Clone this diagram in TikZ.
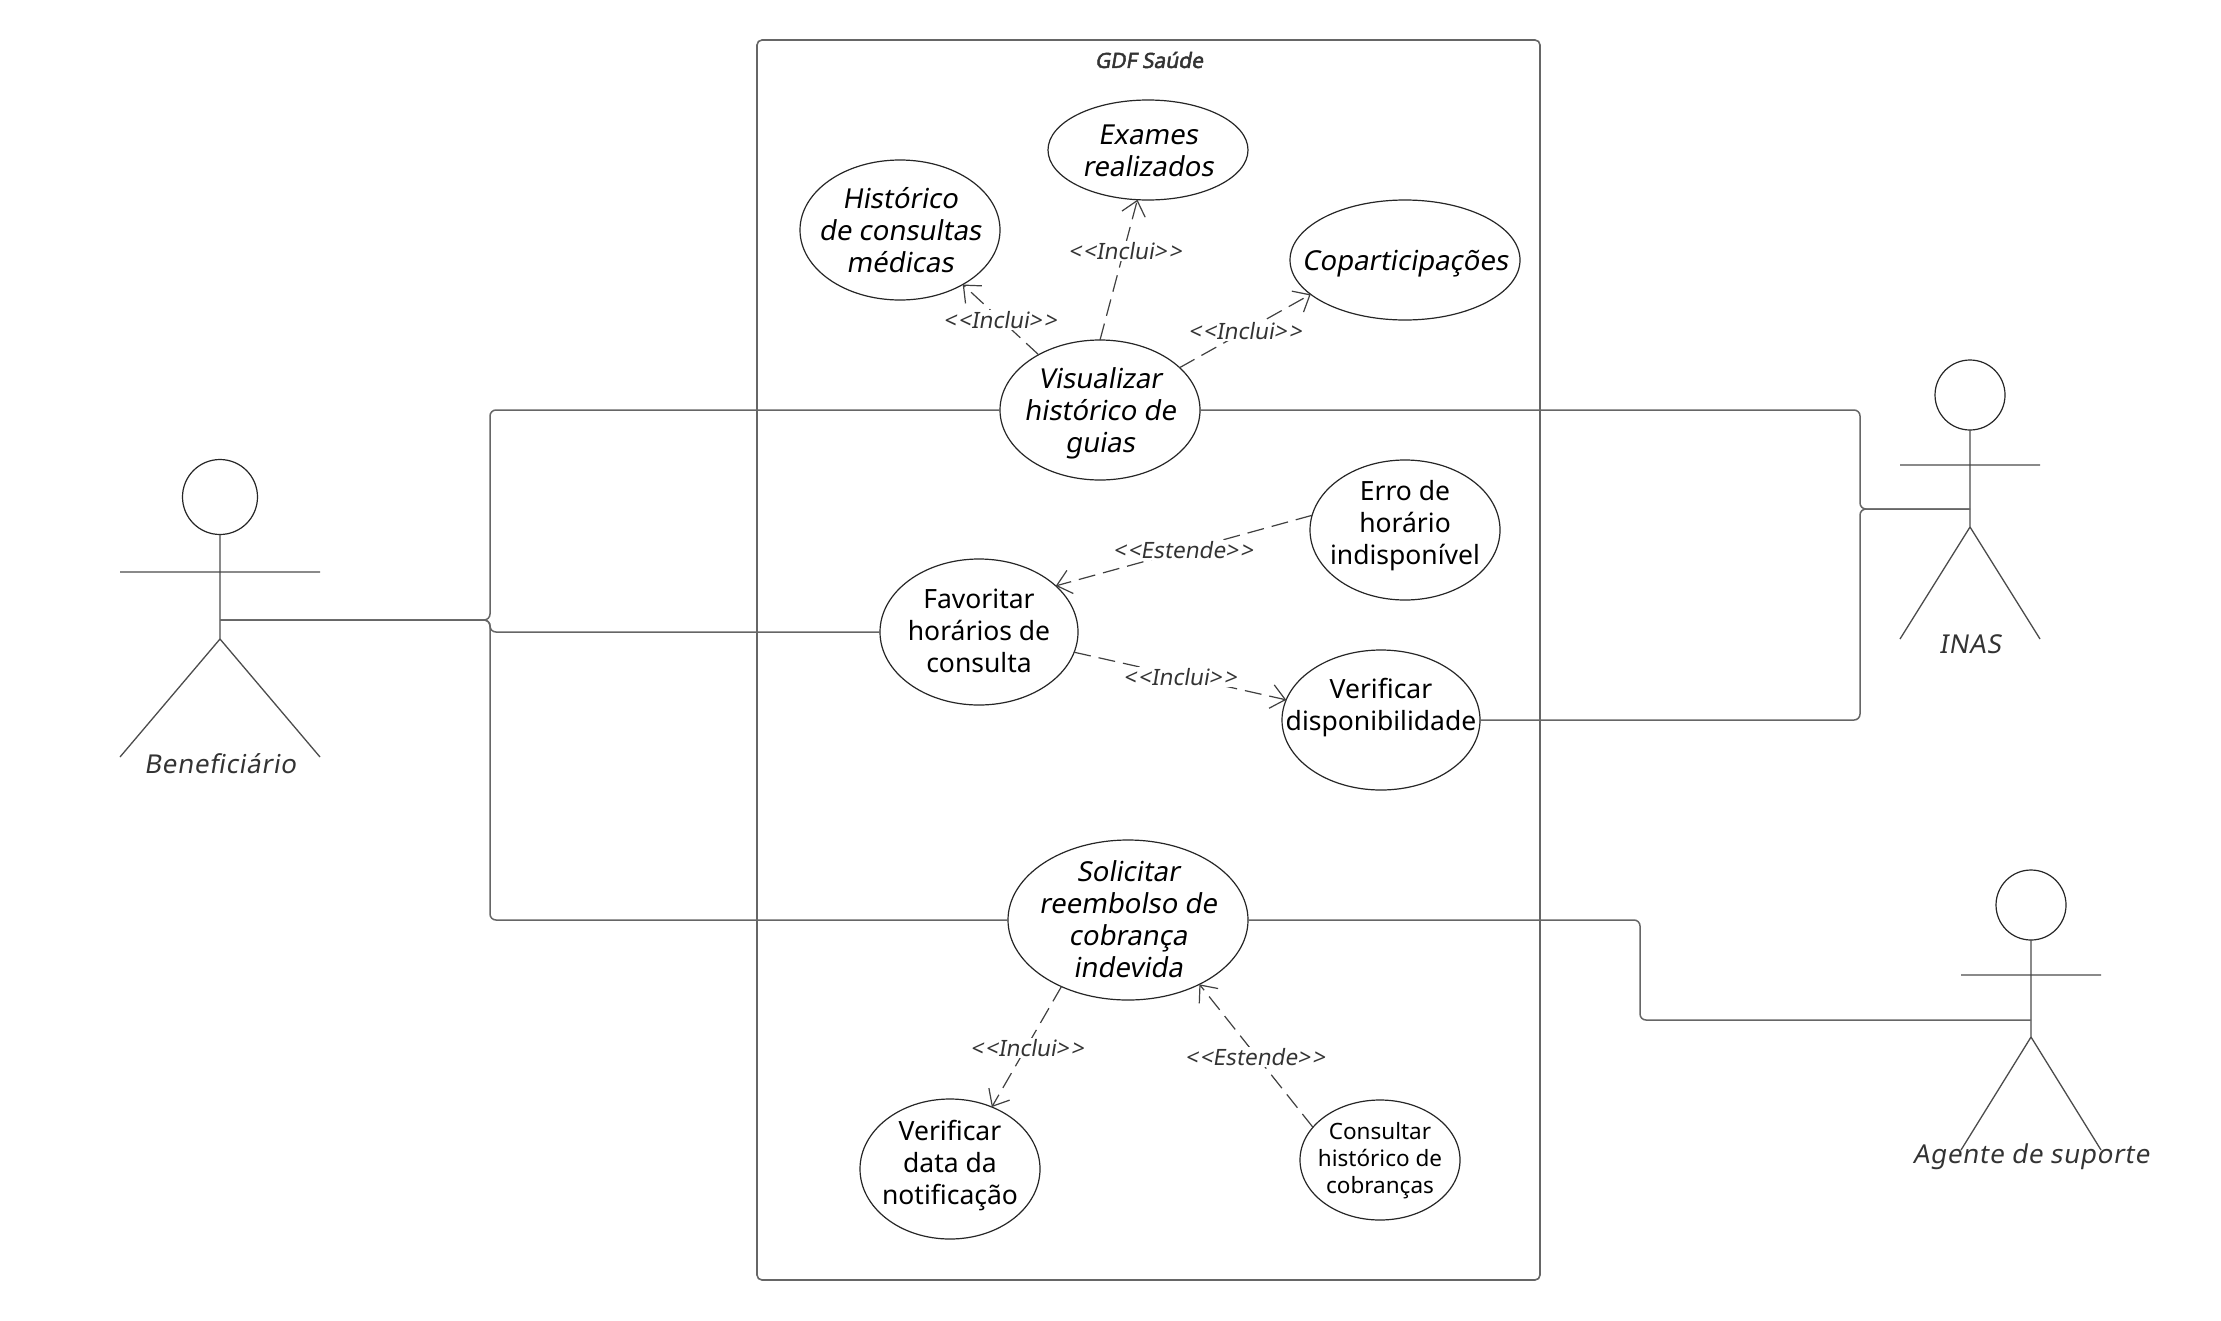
\documentclass[tikz,border=0pt]{standalone}
\usepackage{fontspec}
\setmainfont{Noto Sans}
\newfontfamily\slf[FakeSlant=0.17]{Noto Sans}
\newfontfamily\slbf[FakeSlant=0.17,FakeBold=2.2]{Noto Sans}
\newfontfamily\slsp[FakeSlant=0.17,LetterSpace=2.7]{Noto Sans}
\usetikzlibrary{shapes.geometric,arrows.meta}
\definecolor{wirec}{HTML}{666666}
\definecolor{inkc}{HTML}{333333}
\newcommand\tcell[2]{\raisebox{#1}[0pt][0pt]{\begin{tabular}[c]{@{}c@{}}#2\end{tabular}}}
\newcommand\incl{<\kern2pt<\kern0ptInclui>\kern2pt>}
\newcommand\este{<\kern2pt<\kern0ptEstende>\kern2pt>}
\tikzset{
  usecase/.style={draw=black!85,line width=1.2pt,ellipse,inner sep=-60pt,outer sep=0pt,text=black,font=\fontsize{26.5}{32}\selectfont},
  upc/.style={usecase,font=\fontsize{27.5}{32}\selectfont\slf},
  wire/.style={draw=wirec,line width=1.5pt,rounded corners=6pt},
  dep/.style={draw=black!75,line width=1.2pt,dash pattern=on 17pt off 8pt,-{Straight Barb[length=14pt,width=24pt,line width=1.2pt]}},
  deplabel/.style={fill=white,inner xsep=1pt,inner ysep=1pt,text=inkc,font=\fontsize{22.5}{26}\selectfont\slf},
  figure/.style={draw=black!70,line width=1.3pt},
  head/.style={circle,draw=black!85,line width=1.2pt,inner sep=0pt,outer sep=0pt,minimum size=#1},
  actorname/.style={text=inkc,font=\fontsize{26}{32}\selectfont\slsp},
  system/.style={draw=wirec,line width=1.6pt,rounded corners=5pt}
}
\begin{document}
\begin{tikzpicture}[x=1pt,y=-1pt]
\useasboundingbox (0,0) rectangle (2221,1320);
\fill[white] (0,0) rectangle (2221,1320);
% system boundary
\node[system,minimum width=783pt,minimum height=1240pt,inner sep=0pt,outer sep=0pt] (sys) at (1148.5,660) {};
\node[text=inkc,font=\fontsize{21}{24}\selectfont\slbf] (title) at (1149,60) {GDF Saúde};
% use cases
\node[upc,minimum width=200pt,minimum height=100pt] (exames) at (1148,150) {\tcell{-10pt}{Exames\\realizados}};
\node[upc,minimum width=200pt,minimum height=140pt] (hist) at (900,230) {\tcell{-10pt}{Histórico\\de consultas\\médicas}};
\node[upc,minimum width=230pt,minimum height=120pt] (cop) at (1405,260) {\tcell{-10pt}{Coparticipações}};
\node[upc,minimum width=200pt,minimum height=140pt] (vis) at (1100,410) {\tcell{-10pt}{Visualizar\\histórico de\\guias}};
\node[usecase,minimum width=190pt,minimum height=140pt] (erro) at (1405,530) {\tcell{-2pt}{Erro de\\horário\\indisponível}};
\node[usecase,minimum width=198pt,minimum height=146pt] (fav) at (979,632) {\tcell{-8pt}{Favoritar\\horários de\\consulta}};
\node[usecase,minimum width=198pt,minimum height=140pt] (disp) at (1381,720) {\tcell{6pt}{Verificar\\disponibilidade}};
\node[upc,minimum width=240pt,minimum height=160pt] (sol) at (1128,920) {\tcell{-9pt}{Solicitar\\reembolso de\\cobrança\\indevida}};
\node[usecase,minimum width=180pt,minimum height=140pt] (data) at (950,1169) {\tcell{-3pt}{Verificar\\data da\\notificação}};
\node[usecase,minimum width=160pt,minimum height=120pt,font=\fontsize{22.5}{27}\selectfont] (cons) at (1380,1160) {\tcell{-6pt}{Consultar\\histórico de\\cobranças}};
% actors
\node[head=75pt] (h1) at (220,497) {};
\coordinate (b1) at (220,639); \coordinate (a1l) at (120,572); \coordinate (a1r) at (320,572);
\coordinate (l1l) at (120,757); \coordinate (l1r) at (320,757);
\draw[figure] (h1.south) -- (b1) (a1l) -- (a1r) (l1l) -- (b1) -- (l1r);
\node[actorname] (benef) at (220,764) {Beneficiário};
\node[head=70pt] (h2) at (1970,395) {};
\coordinate (b2) at (1970,527); \coordinate (a2l) at (1900,465); \coordinate (a2r) at (2040,465);
\coordinate (l2l) at (1900,639); \coordinate (l2r) at (2040,639);
\draw[figure] (h2.south) -- (b2) (a2l) -- (a2r) (l2l) -- (b2) -- (l2r);
\node[actorname] (inas) at (1970,644) {INAS};
\node[head=70pt] (h3) at (2031,905) {};
\coordinate (b3) at (2031,1037); \coordinate (a3l) at (1961,975); \coordinate (a3r) at (2101,975);
\coordinate (l3l) at (1961,1150); \coordinate (l3r) at (2101,1150);
\draw[figure] (h3.south) -- (b3) (a3l) -- (a3r) (l3l) -- (b3) -- (l3r);
\node[actorname] (agente) at (2031,1157) {Agente de suporte};
% association connectors
\coordinate (p1) at (220,620); \coordinate (t1) at (490,620);
\draw[wire] (p1) -- (t1) |- (vis.west);
\draw[wire] (p1) -- (t1) |- (fav.west);
\draw[wire] (p1) -- (t1) |- (sol.west);
\coordinate (p2) at (1970,509); \coordinate (t2) at (1860,509);
\draw[wire] (vis.east) -| (t2) -- (p2);
\draw[wire] (disp.east) -| (t2) -- (p2);
\coordinate (p3) at (2031,1020); \coordinate (t3) at (1640,1020);
\draw[wire] (sol.east) -| (t3) -- (p3);
% dependencies
\draw[dep] (vis.138.5) -- (hist.-41.8);
\draw[dep] (vis.90.8) -- (exames.258);
\draw[dep] (vis.28.6) -- (cop.200.4);
\draw[dep] (erro.171.3) -- (fav.31.7);
\draw[dep] (fav.-12) -- (disp.168.5);
\draw[dep] (sol.225.9) -- (data.56.3);
\draw[dep] (cons.154.6) -- (sol.-42.7);
% labels
\node[deplabel] (q1) at (1000,320) {\incl};
\node[deplabel] (q2) at (1125,251) {\incl};
\node[deplabel] (q3) at (1245,331) {\incl};
\node[deplabel] (q4) at (1183,550) {\este};
\node[deplabel] (q5) at (1180,677) {\incl};
\node[deplabel] (q6) at (1027,1048) {\incl};
\node[deplabel] (q7) at (1255,1057) {\este};
\end{tikzpicture}
\end{document}
